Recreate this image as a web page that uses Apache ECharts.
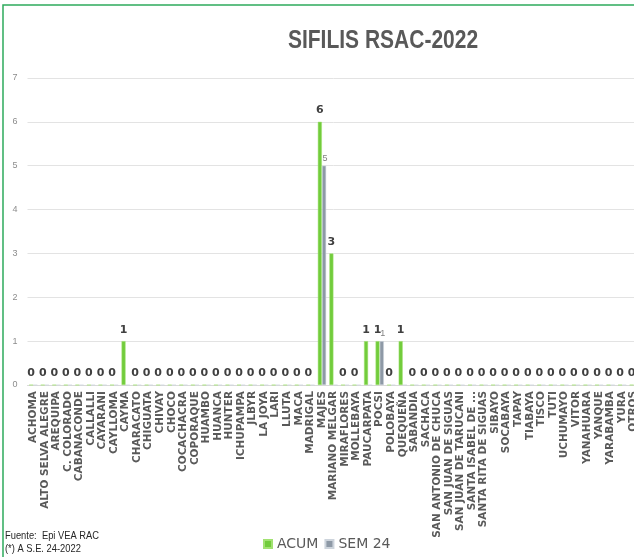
<!DOCTYPE html>
<html>
<head>
<meta charset="utf-8">
<script src="https://cdn.jsdelivr.net/npm/echarts@6/dist/echarts.min.js"></script>
<style>
  html, body { margin: 0; padding: 0; background: #fff; overflow: hidden; }
  #main { width: 645px; height: 557px; }
</style>
</head>
<body>
<div id="main"></div>
<script>
// distritos
const categories = [
  'ACHOMA', 'ALTO SELVA ALEGRE', 'AREQUIPA', 'C. COLORADO', 'CABANACONDE', 'CALLALLI',
  'CAYARANI', 'CAYLLOMA', 'CAYMA', 'CHARACATO', 'CHIGUATA', 'CHIVAY', 'CHOCO',
  'COCACHACRA', 'COPORAQUE', 'HUAMBO', 'HUANCA', 'HUNTER', 'ICHUPAMPA', 'JLBYR',
  'LA JOYA', 'LARI', 'LLUTA', 'MACA', 'MADRIGAL', 'MAJES', 'MARIANO MELGAR',
  'MIRAFLORES', 'MOLLEBAYA', 'PAUCARPATA', 'POCSI', 'POLOBAYA', 'QUEQUEÑA',
  'SABANDIA', 'SACHACA', 'SAN ANTONIO DE CHUCA', 'SAN JUAN DE SIGUAS',
  'SAN JUAN DE TARUCANI', 'SANTA ISABEL DE ...', 'SANTA RITA DE SIGUAS', 'SIBAYO',
  'SOCABAYA', 'TAPAY', 'TIABAYA', 'TISCO', 'TUTI', 'UCHUMAYO', 'VITOR', 'YANAHUARA',
  'YANQUE', 'YARABAMBA', 'YURA', 'OTROS'
];
// casos acumulados
const acum = [
  0, 0, 0, 0, 0, 0, 0, 0, 1, 0, 0, 0, 0, 0, 0, 0, 0, 0, 0, 0, 0, 0, 0, 0, 0,
  6, 3, 0, 0, 1, 1, 0, 1,
  0, 0, 0, 0, 0, 0, 0, 0, 0, 0, 0, 0, 0, 0, 0, 0, 0, 0, 0, 0
];
// casos semana 24
const sem24 = [
  0, 0, 0, 0, 0, 0, 0, 0, 0, 0, 0, 0, 0, 0, 0, 0, 0, 0, 0, 0, 0, 0, 0, 0, 0,
  5, 0, 0, 0, 0, 1, 0, 0,
  0, 0, 0, 0, 0, 0, 0, 0, 0, 0, 0, 0, 0, 0, 0, 0, 0, 0, 0, 0
];
const yTicks = [0, 1, 2, 3, 4, 5, 6, 7];

const chart = echarts.init(document.getElementById('main'));
chart.setOption({
  animation: false,
  backgroundColor: '#fff',
  legend: {
    left: 263,
    top: 537,
    padding: 0,
    itemWidth: 8,
    itemHeight: 8,
    itemGap: 6,
    icon: 'rect',
    textStyle: { fontFamily: 'DejaVu Sans', fontSize: 14, color: '#595959' },
    data: ['ACUM', 'SEM 24']
  },
  grid: { left: 27.5, right: 5.5, top: 78, bottom: 172 },
  xAxis: {
    type: 'category',
    data: categories,
    axisLine: { lineStyle: { color: '#d9d9d9' } },
    axisTick: { show: false },
    axisLabel: {
      interval: 0,
      rotate: 90,
      margin: 6,
      fontFamily: 'DejaVu Sans',
      fontWeight: 'bold',
      fontSize: 10.5,
      color: '#595959'
    }
  },
  yAxis: {
    type: 'value',
    min: yTicks[0],
    max: yTicks[yTicks.length - 1],
    interval: 1,
    axisLine: { show: false },
    axisTick: { show: false },
    splitLine: { lineStyle: { color: '#e3e3e3' } },
    axisLabel: { margin: 10, fontFamily: 'Liberation Sans', fontSize: 9, color: '#8c8c8c' }
  },
  series: [
    {
      name: 'ACUM',
      type: 'bar',
      data: acum,
      barWidth: 4,
      barGap: '5%',
      itemStyle: { color: '#72cc3c', borderColor: '#a2e272', borderWidth: 0.5 },
      label: {
        show: true,
        position: 'top',
        distance: 6,
        fontFamily: 'DejaVu Sans',
        fontWeight: 'bold',
        fontSize: 11,
        color: '#404040'
      }
    },
    {
      name: 'SEM 24',
      type: 'bar',
      data: sem24,
      barWidth: 4,
      itemStyle: { color: '#8e99a6', borderColor: '#cdd4dc', borderWidth: 0.5 },
      label: {
        show: true,
        position: 'top',
        distance: 3,
        offset: [1, 0],
        fontFamily: 'Liberation Sans',
        fontSize: 9,
        color: '#808080',
        formatter: p => (p.value ? p.value : '')
      }
    }
  ],
  graphic: [
    {
      type: 'polyline',
      shape: { points: [[3, 600], [3, 5], [700, 5]] },
      style: { stroke: '#2eaa5c', lineWidth: 1.5, fill: null },
      silent: true
    },
    {
      type: 'text',
      x: 383,
      y: 41,
      scaleX: 0.84,
      style: {
        text: 'SIFILIS RSAC-2022',
        x: 0, y: 0,
        textAlign: 'center',
        textVerticalAlign: 'middle',
        fontFamily: 'Liberation Sans',
        fontWeight: 'bold',
        fontSize: 25,
        fill: '#595959'
      }
    },
    {
      type: 'text',
      x: 5,
      y: 536,
      scaleX: 0.85,
      style: { text: 'Fuente:  Epi VEA RAC', x: 0, y: 0, textVerticalAlign: 'middle', fontFamily: 'Liberation Sans', fontSize: 11, fill: '#262626' }
    },
    {
      type: 'text',
      x: 5,
      y: 549,
      scaleX: 0.85,
      style: { text: '(*) A S.E. 24-2022', x: 0, y: 0, textVerticalAlign: 'middle', fontFamily: 'Liberation Sans', fontSize: 11, fill: '#262626' }
    }
  ]
});
</script>
</body>
</html>
